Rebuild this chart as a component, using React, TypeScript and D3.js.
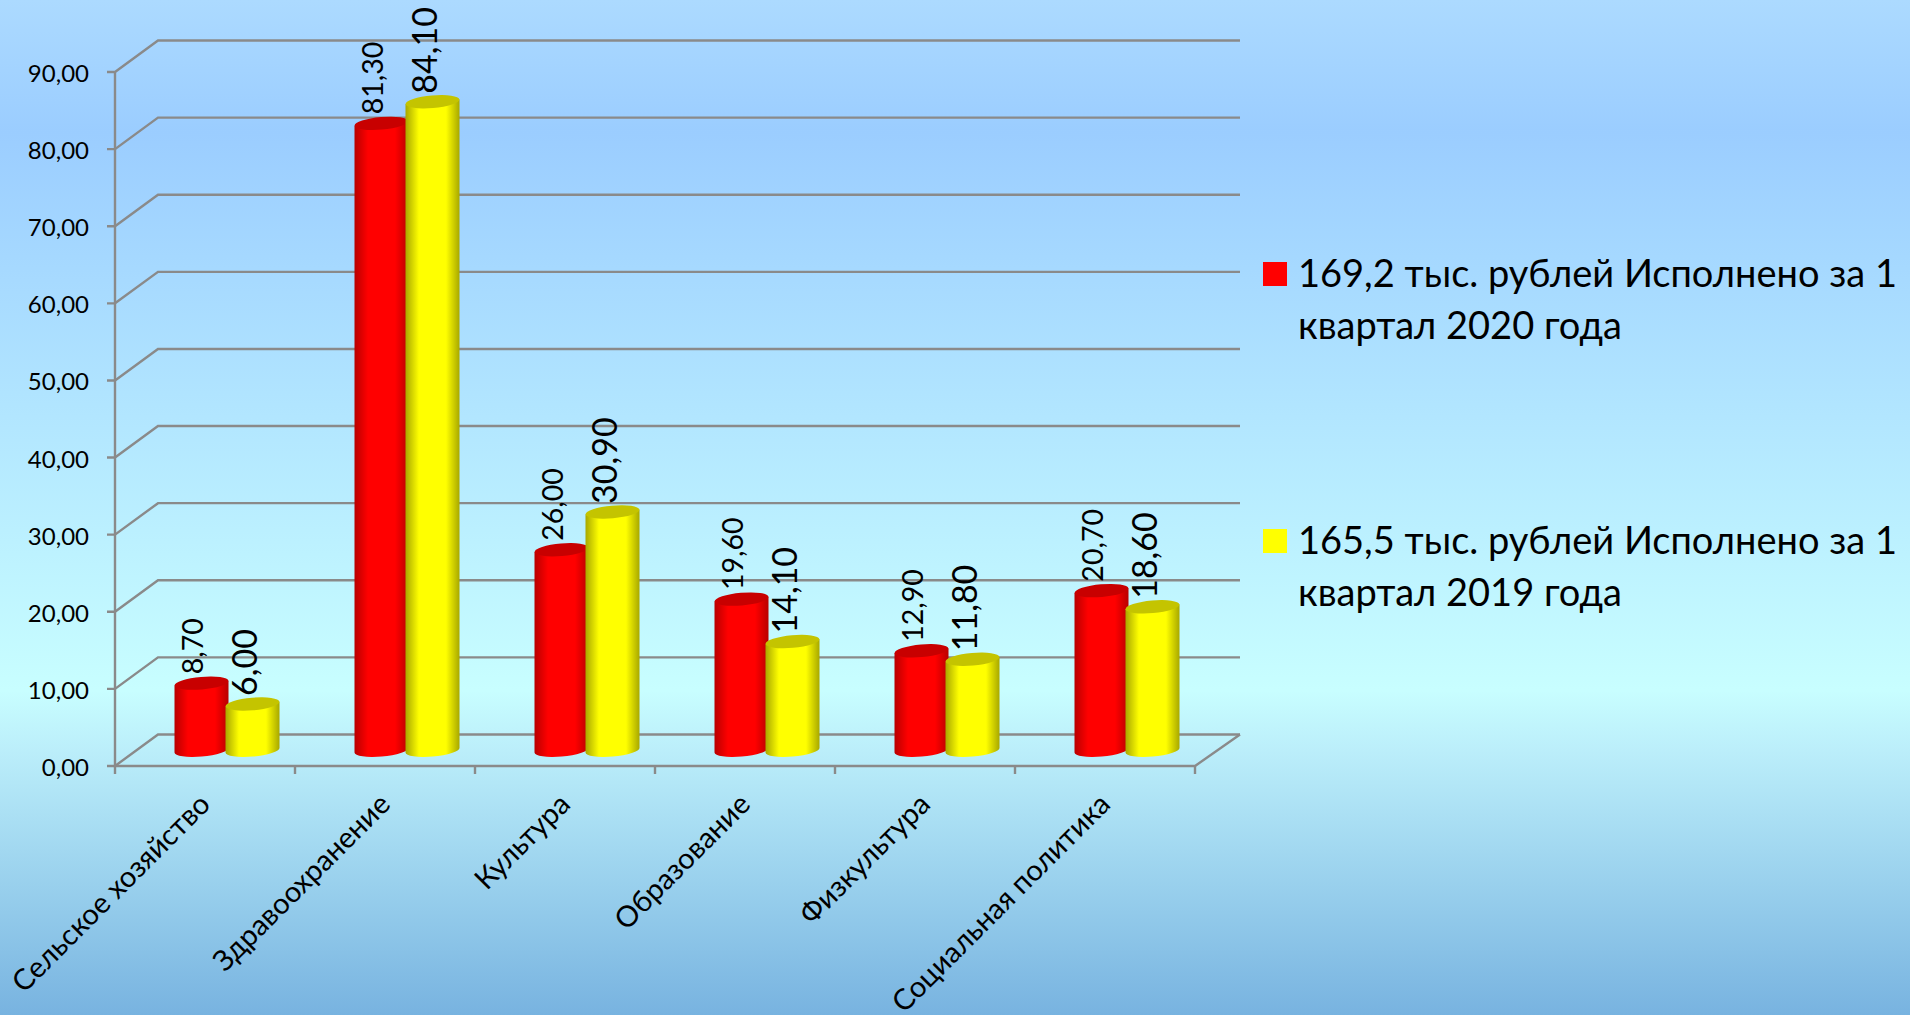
import React from "react";
import * as d3 from "d3";

const categories = ["Сельское хозяйство", "Здравоохранение", "Культура", "Образование", "Физкультура", "Социальная политика"];
const red2020 = [8.7, 81.3, 26.0, 19.6, 12.9, 20.7];
const yellow2019 = [6.0, 84.1, 30.9, 14.1, 11.8, 18.6];
const yTicks = [0, 10, 20, 30, 40, 50, 60, 70, 80, 90];
const legendRed = ["169,2 тыс. рублей Исполнено за 1", "квартал 2020 года"];
const legendYellow = ["165,5 тыс. рублей Исполнено за 1", "квартал 2019 года"];

const W = 1910, H = 1015;
const FONT = "Lato";
const GRID = "#8a8a8a";
const x = d3.scaleBand<string>().domain(categories).range([115, 1195]);
const y = d3.scaleLinear().domain([0, 90]).range([766, 72]);
const DX = 43, DY = -31.5;
const fmt = (v: number) => v.toFixed(2).replace(".", ",");

function Cyl({ cx, v, top, id }: { cx: number; v: number; top: string; id: string }) {
  const rx = 27, ry = 6.3, tilt = 2.3;
  const yT = y(v) + DY / 2, yB = y(0) + DY / 2;
  const body = `M${cx - rx},${yT + tilt} L${cx - rx},${yB + tilt} A${rx},${ry} -5 0 0 ${cx + rx},${yB - tilt} L${cx + rx},${yT - tilt} Z`;
  return (
    <g>
      <path d={body} fill={`url(#${id})`} />
      <ellipse cx={cx} cy={yT} rx={rx} ry={ry} fill={top} transform={`rotate(-5 ${cx} ${yT})`} />
    </g>
  );
}

export default function App() {
  const band = x.bandwidth();
  const centers = categories.map((c) => (x(c) as number) + band / 2);
  return (
    <svg width={W} height={H} viewBox={`0 0 ${W} ${H}`} style={{ position: "fixed", left: 0, top: 0 }} fontFamily={FONT}>
      <defs>
        <linearGradient id="bg" x1="0" y1="0" x2="0" y2="1">
          <stop offset="0" stopColor="#acdaff" />
          <stop offset="0.13" stopColor="#9bcdff" />
          <stop offset="0.68" stopColor="#c8feff" />
          <stop offset="0.74" stopColor="#bbeefa" />
          <stop offset="1" stopColor="#78b3e0" />
        </linearGradient>
        <linearGradient id="gr" x1="0" y1="0" x2="1" y2="0">
          <stop offset="0" stopColor="#b80000" />
          <stop offset="0.25" stopColor="#ff0000" />
          <stop offset="0.75" stopColor="#ff0000" />
          <stop offset="1" stopColor="#b80000" />
        </linearGradient>
        <linearGradient id="gy" x1="0" y1="0" x2="1" y2="0">
          <stop offset="0" stopColor="#a8a800" />
          <stop offset="0.25" stopColor="#ffff00" />
          <stop offset="0.75" stopColor="#ffff00" />
          <stop offset="1" stopColor="#a8a800" />
        </linearGradient>
      </defs>
      <rect width={W} height={H} fill="url(#bg)" />

      {yTicks.map((t) => (
        <g key={t} stroke={GRID} strokeWidth={2.4} fill="none">
          <path d={`M${x.range()[0] - 8},${y(t)} H${x.range()[0]} L${x.range()[0] + DX},${y(t) + DY} H${x.range()[1] + 45}`} />
        </g>
      ))}
      <path d={`M115,${y(90)} V${y(0)} H1195 L1240,${y(0) + DY}`} stroke={GRID} strokeWidth={2.4} fill="none" />
      {[...categories.map((c) => x(c) as number), 1195].map((px) => (
        <path key={px} d={`M${px},${y(0)} v8`} stroke={GRID} strokeWidth={2.4} />
      ))}

      {yTicks.map((t) => (
        <text key={t} x={89} y={y(t) + 10} textAnchor="end" fontSize={24} fill="#000">{fmt(t)}</text>
      ))}

      {categories.map((c, i) => (
        <g key={c}>
          <Cyl cx={centers[i] + DX / 2 - 25} v={red2020[i]} top="#c80000" id="gr" />
          <Cyl cx={centers[i] + DX / 2 + 26} v={yellow2019[i]} top="#c4c400" id="gy" />
        </g>
      ))}

      {categories.map((c, i) => {
        const rx = centers[i] + DX / 2 - 25.5 + 2;
        const yx = centers[i] + DX / 2 + 25.5 + 5;
        const ry0 = y(red2020[i]) + DY / 2 - 9;
        const yy0 = y(yellow2019[i]) + DY / 2 - 8;
        return (
          <g key={c} fill="#000">
            <text transform={`translate(${rx},${ry0}) rotate(-90)`} fontSize={28.5}>{fmt(red2020[i])}</text>
            <text transform={`translate(${yx},${yy0}) rotate(-90)`} fontSize={34}>{fmt(yellow2019[i])}</text>
            <text transform={`translate(${centers[i] + 7},${806}) rotate(-45)`} textAnchor="end" fontSize={29}>{c}</text>
          </g>
        );
      })}

      <rect x={1263} y={262} width={24} height={24} fill="#ff0000" />
      <rect x={1263} y={529} width={24} height={24} fill="#ffff00" />
      {legendRed.map((t, i) => (
        <text key={t} x={1298} y={287 + i * 52} fontSize={38} fill="#000">{t}</text>
      ))}
      {legendYellow.map((t, i) => (
        <text key={t} x={1298} y={554 + i * 52} fontSize={38} fill="#000">{t}</text>
      ))}
    </svg>
  );
}
